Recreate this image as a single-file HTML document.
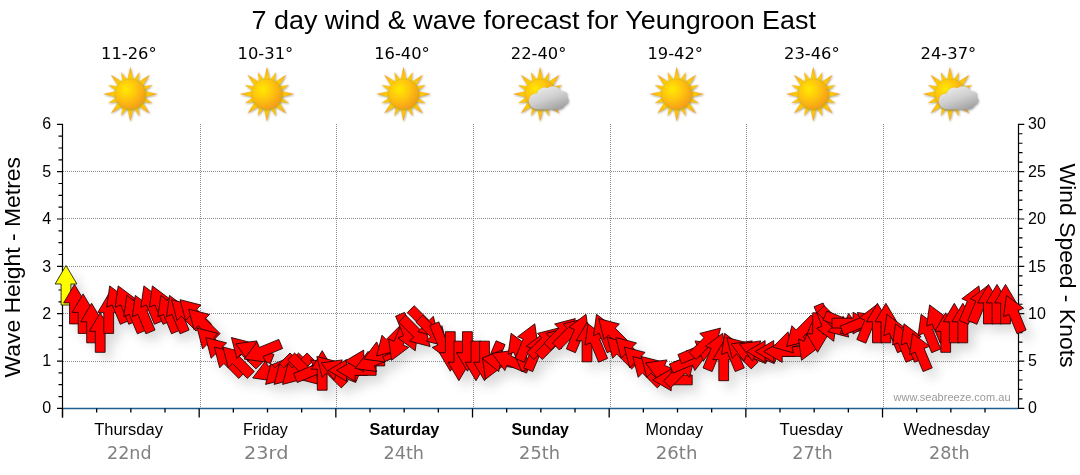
<!DOCTYPE html>
<html lang="en"><head><meta charset="utf-8"><title>7 day wind &amp; wave forecast for Yeungroon East</title>
<style>html,body{margin:0;padding:0;background:#fff}svg{display:block}</style></head>
<body>
<svg width="1080" height="475" viewBox="0 0 1080 475">
<defs>
<radialGradient id="sunc" cx="0.36" cy="0.34" r="0.72"><stop offset="0" stop-color="#ffe900"/><stop offset="0.45" stop-color="#ffc70d"/><stop offset="1" stop-color="#f39a1a"/></radialGradient>
<radialGradient id="ray" gradientUnits="userSpaceOnUse" cx="0" cy="0" r="27"><stop offset="0.5" stop-color="#ffd800"/><stop offset="0.8" stop-color="#fcb81a"/><stop offset="1" stop-color="#f59a1c"/></radialGradient>
<linearGradient id="cld" x1="0.2" y1="0" x2="0.8" y2="1"><stop offset="0" stop-color="#ededed"/><stop offset="0.5" stop-color="#cfcfcf"/><stop offset="1" stop-color="#9d9d9d"/></linearGradient>
<filter id="sh" x="-5%" y="-20%" width="110%" height="150%"><feGaussianBlur stdDeviation="5.5"/></filter>
<filter id="ish" x="-30%" y="-30%" width="160%" height="160%"><feGaussianBlur stdDeviation="0.8"/></filter>

<g id="sun"><path d="M-3.30 -13.00L0.00 -27.30L3.30 -13.00ZM2.39 -13.08L9.18 -22.17L7.56 -10.94ZM6.86 -11.53L19.45 -19.45L11.53 -6.86ZM10.94 -7.56L22.17 -9.18L13.08 -2.39ZM13.00 -3.30L27.30 -0.00L13.00 3.30ZM13.08 2.39L22.17 9.18L10.94 7.56ZM11.53 6.86L19.45 19.45L6.86 11.53ZM7.56 10.94L9.18 22.17L2.39 13.08ZM3.30 13.00L0.00 27.30L-3.30 13.00ZM-2.39 13.08L-9.18 22.17L-7.56 10.94ZM-6.86 11.53L-19.45 19.45L-11.53 6.86ZM-10.94 7.56L-22.17 9.18L-13.08 2.39ZM-13.00 3.30L-27.30 0.00L-13.00 -3.30ZM-13.08 -2.39L-22.17 -9.18L-10.94 -7.56ZM-11.53 -6.86L-19.45 -19.45L-6.86 -11.53ZM-7.56 -10.94L-9.18 -22.17L-2.39 -13.08Z" fill="#6b5a2a" opacity="0.55" transform="translate(0.7,0.8)" filter="url(#ish)"/><path d="M-3.30 -13.00L0.00 -27.30L3.30 -13.00ZM2.39 -13.08L9.18 -22.17L7.56 -10.94ZM6.86 -11.53L19.45 -19.45L11.53 -6.86ZM10.94 -7.56L22.17 -9.18L13.08 -2.39ZM13.00 -3.30L27.30 -0.00L13.00 3.30ZM13.08 2.39L22.17 9.18L10.94 7.56ZM11.53 6.86L19.45 19.45L6.86 11.53ZM7.56 10.94L9.18 22.17L2.39 13.08ZM3.30 13.00L0.00 27.30L-3.30 13.00ZM-2.39 13.08L-9.18 22.17L-7.56 10.94ZM-6.86 11.53L-19.45 19.45L-11.53 6.86ZM-10.94 7.56L-22.17 9.18L-13.08 2.39ZM-13.00 3.30L-27.30 0.00L-13.00 -3.30ZM-13.08 -2.39L-22.17 -9.18L-10.94 -7.56ZM-11.53 -6.86L-19.45 -19.45L-6.86 -11.53ZM-7.56 -10.94L-9.18 -22.17L-2.39 -13.08Z" fill="url(#ray)"/><circle r="15.6" fill="#8a6d25" opacity="0.45" cx="0.5" cy="0.7" filter="url(#ish)"/><circle r="14.9" fill="url(#sunc)"/></g>
<g id="cloud"><path d="M-9 15 C-15 15 -18.5 11 -18.5 6.5 C-18.5 1.5 -14.5 -1.5 -10.5 -1 C-9.5 -6 -4 -8.5 0.5 -6.5 C4 -9.5 11 -9 13.5 -3.5 C17 -4 20.5 -1.5 19.5 2.5 C22.5 4.5 21.5 9.5 17.5 10.5 C16.5 13.5 13 15 10 15 Z" fill="#666" opacity="0.6" transform="translate(0.6,0.8)" filter="url(#ish)"/><path d="M-9 15 C-15 15 -18.5 11 -18.5 6.5 C-18.5 1.5 -14.5 -1.5 -10.5 -1 C-9.5 -6 -4 -8.5 0.5 -6.5 C4 -9.5 11 -9 13.5 -3.5 C17 -4 20.5 -1.5 19.5 2.5 C22.5 4.5 21.5 9.5 17.5 10.5 C16.5 13.5 13 15 10 15 Z" fill="url(#cld)"/></g>
</defs>
<rect width="1080" height="475" fill="#fff"/>
<path d="M62.5 361.5H1018.5M62.5 313.5H1018.5M62.5 266.5H1018.5M62.5 218.5H1018.5M62.5 171.5H1018.5M200.5 124.3V408.4M336.5 124.3V408.4M473.5 124.3V408.4M610.5 124.3V408.4M746.5 124.3V408.4M883.5 124.3V408.4" stroke="#8c8c8c" stroke-width="1" stroke-dasharray="1 1" fill="none" shape-rendering="crispEdges"/>
<path d="M62.5 123.7V417.4M57.0 408.40H62.5M58.5 396.56H62.5M58.5 384.72H62.5M58.5 372.89H62.5M57.0 361.05H62.5M58.5 349.21H62.5M58.5 337.38H62.5M58.5 325.54H62.5M57.0 313.70H62.5M58.5 301.86H62.5M58.5 290.02H62.5M58.5 278.19H62.5M57.0 266.35H62.5M58.5 254.51H62.5M58.5 242.67H62.5M58.5 230.84H62.5M57.0 219.00H62.5M58.5 207.16H62.5M58.5 195.33H62.5M58.5 183.49H62.5M57.0 171.65H62.5M58.5 159.81H62.5M58.5 147.98H62.5M58.5 136.14H62.5M57.0 124.30H62.5M1018.5 123.7V409.0M1018.5 408.40h5.8M1018.5 398.93h4M1018.5 389.46h4M1018.5 379.99h4M1018.5 370.52h4M1018.5 361.05h5.8M1018.5 351.58h4M1018.5 342.11h4M1018.5 332.64h4M1018.5 323.17h4M1018.5 313.70h5.8M1018.5 304.23h4M1018.5 294.76h4M1018.5 285.29h4M1018.5 275.82h4M1018.5 266.35h5.8M1018.5 256.88h4M1018.5 247.41h4M1018.5 237.94h4M1018.5 228.47h4M1018.5 219.00h5.8M1018.5 209.53h4M1018.5 200.06h4M1018.5 190.59h4M1018.5 181.12h4M1018.5 171.65h5.8M1018.5 162.18h4M1018.5 152.71h4M1018.5 143.24h4M1018.5 133.77h4M1018.5 124.30h5.8" stroke="#000" stroke-width="1.2" fill="none"/>
<path d="M63.0 408.4H1018.0" stroke="#1f5d8f" stroke-width="1.5" fill="none"/>
<path d="M62.50 408.4v9M96.67 408.4v4M130.83 408.4v4M165.00 408.4v4M199.17 408.4v9M233.34 408.4v4M267.50 408.4v4M301.67 408.4v4M335.84 408.4v9M370.01 408.4v4M404.17 408.4v4M438.34 408.4v4M472.51 408.4v9M506.68 408.4v4M540.85 408.4v4M575.01 408.4v4M609.18 408.4v9M643.35 408.4v4M677.51 408.4v4M711.68 408.4v4M745.85 408.4v9M780.02 408.4v4M814.18 408.4v4M848.35 408.4v4M882.52 408.4v9M916.69 408.4v4M950.85 408.4v4M985.02 408.4v4" stroke="#000" stroke-width="1.3" fill="none"/>
<path d="M66.0 265.5 L76.9 284.0 L70.9 284.0 L70.9 305.0 L61.1 305.0 L61.1 284.0 L55.1 284.0ZM74.5 284.4 L85.4 302.9 L79.4 302.9 L79.4 323.9 L69.6 323.9 L69.6 302.9 L63.6 302.9ZM83.1 293.9 L94.0 312.4 L88.0 312.4 L88.0 333.4 L78.2 333.4 L78.2 312.4 L72.2 312.4ZM91.6 303.3 L102.5 321.8 L96.5 321.8 L96.5 342.8 L86.7 342.8 L86.7 321.8 L80.7 321.8ZM100.2 312.8 L111.1 331.3 L105.1 331.3 L105.1 352.3 L95.3 352.3 L95.3 331.3 L89.3 331.3ZM108.7 293.9 L119.6 312.4 L113.6 312.4 L113.6 333.4 L103.8 333.4 L103.8 312.4 L97.8 312.4ZM109.7 285.9 L126.8 298.8 L121.3 301.1 L129.3 320.5 L120.3 324.3 L112.2 304.9 L106.7 307.2ZM118.2 285.9 L135.4 298.8 L129.8 301.1 L137.9 320.5 L128.8 324.3 L120.8 304.9 L115.2 307.2ZM126.8 295.4 L143.9 308.3 L138.4 310.6 L146.4 330.0 L137.4 333.8 L129.3 314.4 L123.8 316.6ZM135.3 295.4 L152.5 308.3 L146.9 310.6 L155.0 330.0 L145.9 333.8 L137.9 314.4 L132.3 316.6ZM143.9 285.9 L161.0 298.8 L155.5 301.1 L163.5 320.5 L154.4 324.3 L146.4 304.9 L140.9 307.2ZM152.4 285.9 L169.5 298.8 L164.0 301.1 L172.0 320.5 L163.0 324.3 L154.9 304.9 L149.4 307.2ZM160.9 295.4 L178.1 308.3 L172.5 310.6 L180.6 330.0 L171.5 333.8 L163.5 314.4 L157.9 316.6ZM169.5 295.4 L186.6 308.3 L181.1 310.6 L189.1 330.0 L180.1 333.8 L172.0 314.4 L166.5 316.6ZM171.6 299.7 L192.4 305.0 L188.2 309.3 L203.0 324.1 L196.1 331.1 L181.2 316.2 L177.0 320.5ZM180.1 299.7 L200.9 305.0 L196.7 309.3 L211.5 324.1 L204.6 331.1 L189.8 316.2 L185.5 320.5ZM188.7 309.1 L209.5 314.5 L205.2 318.7 L220.1 333.6 L213.2 340.5 L198.3 325.7 L194.1 329.9ZM197.2 328.1 L218.0 333.4 L213.8 337.7 L228.6 352.5 L221.7 359.5 L206.8 344.6 L202.6 348.9ZM205.8 337.5 L226.6 342.9 L222.3 347.1 L237.2 362.0 L230.2 368.9 L215.4 354.1 L211.1 358.3ZM214.3 347.0 L235.1 352.4 L230.9 356.6 L245.7 371.5 L238.8 378.4 L223.9 363.5 L219.7 367.8ZM222.9 347.0 L243.6 352.4 L239.4 356.6 L254.3 371.5 L247.3 378.4 L232.5 363.5 L228.2 367.8ZM231.4 337.5 L252.2 342.9 L247.9 347.1 L262.8 362.0 L255.9 368.9 L241.0 354.1 L236.8 358.3ZM235.7 343.9 L256.9 340.9 L254.6 346.5 L274.0 354.5 L270.3 363.6 L250.9 355.5 L248.6 361.1ZM244.2 359.1 L257.1 341.9 L259.4 347.4 L278.8 339.4 L282.6 348.5 L263.2 356.5 L265.5 362.0ZM252.7 378.0 L265.7 360.8 L268.0 366.4 L287.4 358.3 L291.1 367.4 L271.7 375.4 L274.0 381.0ZM265.6 384.4 L270.9 363.6 L275.2 367.9 L290.0 353.0 L297.0 359.9 L282.1 374.8 L286.3 379.0ZM274.1 384.4 L279.5 363.6 L283.7 367.9 L298.6 353.0 L305.5 359.9 L290.6 374.8 L294.9 379.0ZM282.6 384.4 L288.0 363.6 L292.3 367.9 L307.1 353.0 L314.0 359.9 L299.2 374.8 L303.4 379.0ZM319.1 384.4 L298.3 379.0 L302.6 374.8 L287.7 359.9 L294.6 353.0 L309.5 367.9 L313.7 363.6ZM331.9 362.9 L319.0 380.0 L316.7 374.5 L297.3 382.5 L293.6 373.5 L313.0 365.4 L310.7 359.9ZM322.2 350.7 L333.1 369.2 L327.1 369.2 L327.1 390.2 L317.3 390.2 L317.3 369.2 L311.3 369.2ZM316.8 356.5 L337.6 361.8 L333.4 366.1 L348.2 380.9 L341.3 387.9 L326.4 373.0 L322.2 377.3ZM321.1 362.9 L342.3 359.9 L340.0 365.4 L359.4 373.5 L355.7 382.5 L336.3 374.5 L334.0 380.0ZM328.1 370.4 L346.6 359.5 L346.6 365.5 L367.6 365.5 L367.6 375.3 L346.6 375.3 L346.6 381.3ZM336.6 370.4 L355.1 359.5 L355.1 365.5 L376.1 365.5 L376.1 375.3 L355.1 375.3 L355.1 381.3ZM345.2 361.0 L363.7 350.1 L363.7 356.1 L384.7 356.1 L384.7 365.9 L363.7 365.9 L363.7 371.9ZM355.2 368.5 L368.1 351.4 L370.4 356.9 L389.8 348.9 L393.6 357.9 L374.2 366.0 L376.5 371.5ZM363.8 359.1 L376.7 341.9 L379.0 347.4 L398.4 339.4 L402.1 348.5 L382.7 356.5 L385.0 362.0ZM376.6 356.0 L382.0 335.2 L386.2 339.5 L401.1 324.6 L408.0 331.5 L393.1 346.4 L397.4 350.6ZM391.5 360.3 L388.6 339.0 L394.1 341.3 L402.1 321.9 L411.2 325.7 L403.1 345.1 L408.7 347.4ZM415.2 350.8 L398.0 337.9 L403.6 335.6 L395.6 316.2 L404.6 312.4 L412.6 331.8 L418.2 329.5ZM430.1 346.5 L409.4 341.2 L413.6 336.9 L398.8 322.1 L405.7 315.1 L420.5 330.0 L424.8 325.7ZM438.7 337.1 L417.9 331.7 L422.1 327.4 L407.3 312.6 L414.2 305.7 L429.1 320.5 L433.3 316.3ZM447.2 346.5 L426.4 341.2 L430.7 336.9 L415.8 322.1 L422.8 315.1 L437.6 330.0 L441.9 325.7ZM449.4 360.3 L432.2 347.4 L437.8 345.1 L429.7 325.7 L438.8 321.9 L446.8 341.3 L452.4 339.0ZM450.3 371.2 L439.4 352.7 L445.4 352.7 L445.4 331.7 L455.2 331.7 L455.2 352.7 L461.2 352.7ZM458.9 380.7 L448.0 362.2 L454.0 362.2 L454.0 341.2 L463.8 341.2 L463.8 362.2 L469.8 362.2ZM467.4 371.2 L456.5 352.7 L462.5 352.7 L462.5 331.7 L472.3 331.7 L472.3 352.7 L478.3 352.7ZM476.0 380.7 L465.1 362.2 L471.1 362.2 L471.1 341.2 L480.9 341.2 L480.9 362.2 L486.9 362.2ZM484.5 380.7 L473.6 362.2 L479.6 362.2 L479.6 341.2 L489.4 341.2 L489.4 362.2 L495.4 362.2ZM485.5 379.2 L482.5 357.9 L488.0 360.2 L496.1 340.8 L505.1 344.6 L497.1 364.0 L502.6 366.3ZM482.0 358.2 L501.9 350.0 L501.0 355.9 L521.8 358.9 L520.5 368.6 L499.7 365.6 L498.8 371.6ZM491.9 353.4 L513.1 350.4 L510.9 356.0 L530.3 364.0 L526.5 373.1 L507.1 365.0 L504.8 370.6ZM511.1 333.3 L528.3 346.2 L522.7 348.5 L530.8 367.9 L521.7 371.6 L513.7 352.2 L508.1 354.5ZM534.8 323.8 L537.8 345.0 L532.2 342.8 L524.2 362.2 L515.1 358.4 L523.2 339.0 L517.6 336.7ZM543.3 333.3 L546.3 354.5 L540.8 352.2 L532.7 371.6 L523.7 367.9 L531.7 348.5 L526.2 346.2ZM558.3 328.1 L552.9 348.9 L548.6 344.6 L533.8 359.5 L526.9 352.5 L541.7 337.7 L537.5 333.4ZM566.8 328.1 L561.4 348.9 L557.2 344.6 L542.3 359.5 L535.4 352.5 L550.3 337.7 L546.0 333.4ZM575.3 318.6 L570.0 339.4 L565.7 335.1 L550.9 350.0 L543.9 343.1 L558.8 328.2 L554.6 324.0ZM583.9 318.6 L578.5 339.4 L574.3 335.1 L559.4 350.0 L552.5 343.1 L567.3 328.2 L563.1 324.0ZM586.0 314.3 L589.0 335.6 L583.5 333.3 L575.4 352.7 L566.4 348.9 L574.4 329.5 L568.9 327.2ZM587.0 322.3 L597.9 340.8 L591.9 340.8 L591.9 361.8 L582.1 361.8 L582.1 340.8 L576.1 340.8ZM588.0 323.8 L605.1 336.7 L599.6 339.0 L607.6 358.4 L598.6 362.2 L590.5 342.8 L585.0 345.0ZM596.5 314.3 L613.7 327.2 L608.1 329.5 L616.2 348.9 L607.1 352.7 L599.1 333.3 L593.5 335.6ZM598.7 318.6 L619.4 324.0 L615.2 328.2 L630.1 343.1 L623.1 350.0 L608.3 335.1 L604.0 339.4ZM607.2 337.5 L628.0 342.9 L623.7 347.1 L638.6 362.0 L631.7 368.9 L616.8 354.1 L612.6 358.3ZM615.7 337.5 L636.5 342.9 L632.3 347.1 L647.1 362.0 L640.2 368.9 L625.4 354.1 L621.1 358.3ZM624.3 347.0 L645.1 352.4 L640.8 356.6 L655.7 371.5 L648.7 378.4 L633.9 363.5 L629.7 367.8ZM632.8 356.5 L653.6 361.8 L649.4 366.1 L664.2 380.9 L657.3 387.9 L642.4 373.0 L638.2 377.3ZM641.4 356.5 L662.2 361.8 L657.9 366.1 L672.8 380.9 L665.8 387.9 L651.0 373.0 L646.7 377.3ZM645.6 362.9 L666.9 359.9 L664.6 365.4 L684.0 373.5 L680.2 382.5 L660.8 374.5 L658.5 380.0ZM652.7 379.9 L671.2 369.0 L671.2 375.0 L692.2 375.0 L692.2 384.8 L671.2 384.8 L671.2 390.8ZM694.9 356.5 L689.5 377.3 L685.3 373.0 L670.5 387.9 L663.5 380.9 L678.4 366.1 L674.1 361.8ZM707.7 353.4 L694.8 370.6 L692.5 365.0 L673.1 373.1 L669.4 364.0 L688.8 356.0 L686.5 350.4ZM716.3 343.9 L703.4 361.1 L701.1 355.5 L681.7 363.6 L677.9 354.5 L697.3 346.5 L695.0 340.9ZM720.5 328.1 L715.2 348.9 L710.9 344.6 L696.1 359.5 L689.1 352.5 L704.0 337.7 L699.8 333.4ZM722.7 333.3 L725.7 354.5 L720.1 352.2 L712.1 371.6 L703.0 367.9 L711.1 348.5 L705.5 346.2ZM723.7 341.2 L734.6 359.7 L728.6 359.7 L728.6 380.7 L718.8 380.7 L718.8 359.7 L712.8 359.7ZM724.6 333.3 L741.8 346.2 L736.2 348.5 L744.3 367.9 L735.2 371.6 L727.2 352.2 L721.6 354.5ZM726.8 337.5 L747.6 342.9 L743.3 347.1 L758.2 362.0 L751.2 368.9 L736.4 354.1 L732.1 358.3ZM731.0 343.9 L752.3 340.9 L750.0 346.5 L769.4 354.5 L765.7 363.6 L746.3 355.5 L744.0 361.1ZM739.6 343.9 L760.8 340.9 L758.5 346.5 L777.9 354.5 L774.2 363.6 L754.8 355.5 L752.5 361.1ZM746.6 351.5 L765.1 340.6 L765.1 346.6 L786.1 346.6 L786.1 356.4 L765.1 356.4 L765.1 362.4ZM755.2 351.5 L773.7 340.6 L773.7 346.6 L794.7 346.6 L794.7 356.4 L773.7 356.4 L773.7 362.4ZM763.7 351.5 L782.2 340.6 L782.2 346.6 L803.2 346.6 L803.2 356.4 L782.2 356.4 L782.2 362.4ZM772.9 347.1 L788.0 331.8 L789.5 337.6 L809.8 332.2 L812.3 341.7 L792.0 347.1 L793.6 352.9ZM786.6 346.5 L791.9 325.7 L796.2 330.0 L811.0 315.1 L818.0 322.1 L803.1 336.9 L807.3 341.2ZM801.5 360.3 L798.5 339.0 L804.1 341.3 L812.1 321.9 L821.2 325.7 L813.1 345.1 L818.7 347.4ZM817.6 352.3 L806.7 333.8 L812.7 333.8 L812.7 312.8 L822.5 312.8 L822.5 333.8 L828.5 333.8ZM833.7 341.3 L816.6 328.4 L822.1 326.1 L814.1 306.7 L823.1 303.0 L831.2 322.4 L836.7 320.1ZM848.7 337.1 L827.9 331.7 L832.1 327.4 L817.3 312.6 L824.2 305.7 L839.0 320.5 L843.3 316.3ZM861.5 330.7 L840.2 333.6 L842.5 328.1 L823.1 320.1 L826.9 311.0 L846.3 319.0 L848.6 313.5ZM871.5 323.1 L853.0 334.0 L853.0 328.0 L832.0 328.0 L832.0 318.2 L853.0 318.2 L853.0 312.2ZM878.6 315.5 L865.6 332.7 L863.3 327.1 L843.9 335.2 L840.2 326.1 L859.6 318.1 L857.3 312.5ZM876.4 304.9 L879.4 326.1 L873.9 323.8 L865.8 343.2 L856.8 339.5 L864.8 320.1 L859.3 317.8ZM877.4 303.3 L888.3 321.8 L882.3 321.8 L882.3 342.8 L872.5 342.8 L872.5 321.8 L866.5 321.8ZM885.9 303.3 L896.8 321.8 L890.8 321.8 L890.8 342.8 L881.0 342.8 L881.0 321.8 L875.0 321.8ZM886.9 314.3 L904.1 327.2 L898.5 329.5 L906.6 348.9 L897.5 352.7 L889.5 333.3 L883.9 335.6ZM895.5 323.8 L912.6 336.7 L907.1 339.0 L915.1 358.4 L906.0 362.2 L898.0 342.8 L892.5 345.0ZM904.0 323.8 L921.2 336.7 L915.6 339.0 L923.6 358.4 L914.6 362.2 L906.6 342.8 L901.0 345.0ZM912.5 333.3 L929.7 346.2 L924.1 348.5 L932.2 367.9 L923.1 371.6 L915.1 352.2 L909.6 354.5ZM921.1 314.3 L938.2 327.2 L932.7 329.5 L940.7 348.9 L931.7 352.7 L923.6 333.3 L918.1 335.6ZM929.6 304.9 L946.8 317.8 L941.2 320.1 L949.3 339.5 L940.2 343.2 L932.2 323.8 L926.6 326.1ZM945.7 312.8 L956.6 331.3 L950.6 331.3 L950.6 352.3 L940.8 352.3 L940.8 331.3 L934.8 331.3ZM954.3 303.3 L965.2 321.8 L959.2 321.8 L959.2 342.8 L949.4 342.8 L949.4 321.8 L943.4 321.8ZM962.8 303.3 L973.7 321.8 L967.7 321.8 L967.7 342.8 L957.9 342.8 L957.9 321.8 L951.9 321.8ZM978.9 285.9 L981.9 307.2 L976.4 304.9 L968.3 324.3 L959.3 320.5 L967.3 301.1 L961.8 298.8ZM987.4 285.9 L990.4 307.2 L984.9 304.9 L976.9 324.3 L967.8 320.5 L975.8 301.1 L970.3 298.8ZM988.4 284.4 L999.3 302.9 L993.3 302.9 L993.3 323.9 L983.5 323.9 L983.5 302.9 L977.5 302.9ZM997.0 284.4 L1007.9 302.9 L1001.9 302.9 L1001.9 323.9 L992.1 323.9 L992.1 302.9 L986.1 302.9ZM1005.5 284.4 L1016.4 302.9 L1010.4 302.9 L1010.4 323.9 L1000.6 323.9 L1000.6 302.9 L994.6 302.9ZM1006.5 295.4 L1023.6 308.3 L1018.1 310.6 L1026.1 330.0 L1017.1 333.8 L1009.0 314.4 L1003.5 316.6Z" fill="#555" opacity="0.22" transform="translate(6.5,7.5)" filter="url(#sh)"/>
<path d="M66.0 265.5 L76.9 284.0 L70.9 284.0 L70.9 305.0 L61.1 305.0 L61.1 284.0 L55.1 284.0Z" fill="#ffff00" stroke="#1a1a00" stroke-width="0.85" stroke-linejoin="miter"/>
<path d="M74.5 284.4 L85.4 302.9 L79.4 302.9 L79.4 323.9 L69.6 323.9 L69.6 302.9 L63.6 302.9Z" fill="#ff0000" stroke="#1a0000" stroke-width="0.85" stroke-linejoin="miter"/>
<path d="M83.1 293.9 L94.0 312.4 L88.0 312.4 L88.0 333.4 L78.2 333.4 L78.2 312.4 L72.2 312.4Z" fill="#ff0000" stroke="#1a0000" stroke-width="0.85" stroke-linejoin="miter"/>
<path d="M91.6 303.3 L102.5 321.8 L96.5 321.8 L96.5 342.8 L86.7 342.8 L86.7 321.8 L80.7 321.8Z" fill="#ff0000" stroke="#1a0000" stroke-width="0.85" stroke-linejoin="miter"/>
<path d="M100.2 312.8 L111.1 331.3 L105.1 331.3 L105.1 352.3 L95.3 352.3 L95.3 331.3 L89.3 331.3Z" fill="#ff0000" stroke="#1a0000" stroke-width="0.85" stroke-linejoin="miter"/>
<path d="M108.7 293.9 L119.6 312.4 L113.6 312.4 L113.6 333.4 L103.8 333.4 L103.8 312.4 L97.8 312.4Z" fill="#ff0000" stroke="#1a0000" stroke-width="0.85" stroke-linejoin="miter"/>
<path d="M109.7 285.9 L126.8 298.8 L121.3 301.1 L129.3 320.5 L120.3 324.3 L112.2 304.9 L106.7 307.2Z" fill="#ff0000" stroke="#1a0000" stroke-width="0.85" stroke-linejoin="miter"/>
<path d="M118.2 285.9 L135.4 298.8 L129.8 301.1 L137.9 320.5 L128.8 324.3 L120.8 304.9 L115.2 307.2Z" fill="#ff0000" stroke="#1a0000" stroke-width="0.85" stroke-linejoin="miter"/>
<path d="M126.8 295.4 L143.9 308.3 L138.4 310.6 L146.4 330.0 L137.4 333.8 L129.3 314.4 L123.8 316.6Z" fill="#ff0000" stroke="#1a0000" stroke-width="0.85" stroke-linejoin="miter"/>
<path d="M135.3 295.4 L152.5 308.3 L146.9 310.6 L155.0 330.0 L145.9 333.8 L137.9 314.4 L132.3 316.6Z" fill="#ff0000" stroke="#1a0000" stroke-width="0.85" stroke-linejoin="miter"/>
<path d="M143.9 285.9 L161.0 298.8 L155.5 301.1 L163.5 320.5 L154.4 324.3 L146.4 304.9 L140.9 307.2Z" fill="#ff0000" stroke="#1a0000" stroke-width="0.85" stroke-linejoin="miter"/>
<path d="M152.4 285.9 L169.5 298.8 L164.0 301.1 L172.0 320.5 L163.0 324.3 L154.9 304.9 L149.4 307.2Z" fill="#ff0000" stroke="#1a0000" stroke-width="0.85" stroke-linejoin="miter"/>
<path d="M160.9 295.4 L178.1 308.3 L172.5 310.6 L180.6 330.0 L171.5 333.8 L163.5 314.4 L157.9 316.6Z" fill="#ff0000" stroke="#1a0000" stroke-width="0.85" stroke-linejoin="miter"/>
<path d="M169.5 295.4 L186.6 308.3 L181.1 310.6 L189.1 330.0 L180.1 333.8 L172.0 314.4 L166.5 316.6Z" fill="#ff0000" stroke="#1a0000" stroke-width="0.85" stroke-linejoin="miter"/>
<path d="M171.6 299.7 L192.4 305.0 L188.2 309.3 L203.0 324.1 L196.1 331.1 L181.2 316.2 L177.0 320.5Z" fill="#ff0000" stroke="#1a0000" stroke-width="0.85" stroke-linejoin="miter"/>
<path d="M180.1 299.7 L200.9 305.0 L196.7 309.3 L211.5 324.1 L204.6 331.1 L189.8 316.2 L185.5 320.5Z" fill="#ff0000" stroke="#1a0000" stroke-width="0.85" stroke-linejoin="miter"/>
<path d="M188.7 309.1 L209.5 314.5 L205.2 318.7 L220.1 333.6 L213.2 340.5 L198.3 325.7 L194.1 329.9Z" fill="#ff0000" stroke="#1a0000" stroke-width="0.85" stroke-linejoin="miter"/>
<path d="M197.2 328.1 L218.0 333.4 L213.8 337.7 L228.6 352.5 L221.7 359.5 L206.8 344.6 L202.6 348.9Z" fill="#ff0000" stroke="#1a0000" stroke-width="0.85" stroke-linejoin="miter"/>
<path d="M205.8 337.5 L226.6 342.9 L222.3 347.1 L237.2 362.0 L230.2 368.9 L215.4 354.1 L211.1 358.3Z" fill="#ff0000" stroke="#1a0000" stroke-width="0.85" stroke-linejoin="miter"/>
<path d="M214.3 347.0 L235.1 352.4 L230.9 356.6 L245.7 371.5 L238.8 378.4 L223.9 363.5 L219.7 367.8Z" fill="#ff0000" stroke="#1a0000" stroke-width="0.85" stroke-linejoin="miter"/>
<path d="M222.9 347.0 L243.6 352.4 L239.4 356.6 L254.3 371.5 L247.3 378.4 L232.5 363.5 L228.2 367.8Z" fill="#ff0000" stroke="#1a0000" stroke-width="0.85" stroke-linejoin="miter"/>
<path d="M231.4 337.5 L252.2 342.9 L247.9 347.1 L262.8 362.0 L255.9 368.9 L241.0 354.1 L236.8 358.3Z" fill="#ff0000" stroke="#1a0000" stroke-width="0.85" stroke-linejoin="miter"/>
<path d="M235.7 343.9 L256.9 340.9 L254.6 346.5 L274.0 354.5 L270.3 363.6 L250.9 355.5 L248.6 361.1Z" fill="#ff0000" stroke="#1a0000" stroke-width="0.85" stroke-linejoin="miter"/>
<path d="M244.2 359.1 L257.1 341.9 L259.4 347.4 L278.8 339.4 L282.6 348.5 L263.2 356.5 L265.5 362.0Z" fill="#ff0000" stroke="#1a0000" stroke-width="0.85" stroke-linejoin="miter"/>
<path d="M252.7 378.0 L265.7 360.8 L268.0 366.4 L287.4 358.3 L291.1 367.4 L271.7 375.4 L274.0 381.0Z" fill="#ff0000" stroke="#1a0000" stroke-width="0.85" stroke-linejoin="miter"/>
<path d="M265.6 384.4 L270.9 363.6 L275.2 367.9 L290.0 353.0 L297.0 359.9 L282.1 374.8 L286.3 379.0Z" fill="#ff0000" stroke="#1a0000" stroke-width="0.85" stroke-linejoin="miter"/>
<path d="M274.1 384.4 L279.5 363.6 L283.7 367.9 L298.6 353.0 L305.5 359.9 L290.6 374.8 L294.9 379.0Z" fill="#ff0000" stroke="#1a0000" stroke-width="0.85" stroke-linejoin="miter"/>
<path d="M282.6 384.4 L288.0 363.6 L292.3 367.9 L307.1 353.0 L314.0 359.9 L299.2 374.8 L303.4 379.0Z" fill="#ff0000" stroke="#1a0000" stroke-width="0.85" stroke-linejoin="miter"/>
<path d="M319.1 384.4 L298.3 379.0 L302.6 374.8 L287.7 359.9 L294.6 353.0 L309.5 367.9 L313.7 363.6Z" fill="#ff0000" stroke="#1a0000" stroke-width="0.85" stroke-linejoin="miter"/>
<path d="M331.9 362.9 L319.0 380.0 L316.7 374.5 L297.3 382.5 L293.6 373.5 L313.0 365.4 L310.7 359.9Z" fill="#ff0000" stroke="#1a0000" stroke-width="0.85" stroke-linejoin="miter"/>
<path d="M322.2 350.7 L333.1 369.2 L327.1 369.2 L327.1 390.2 L317.3 390.2 L317.3 369.2 L311.3 369.2Z" fill="#ff0000" stroke="#1a0000" stroke-width="0.85" stroke-linejoin="miter"/>
<path d="M316.8 356.5 L337.6 361.8 L333.4 366.1 L348.2 380.9 L341.3 387.9 L326.4 373.0 L322.2 377.3Z" fill="#ff0000" stroke="#1a0000" stroke-width="0.85" stroke-linejoin="miter"/>
<path d="M321.1 362.9 L342.3 359.9 L340.0 365.4 L359.4 373.5 L355.7 382.5 L336.3 374.5 L334.0 380.0Z" fill="#ff0000" stroke="#1a0000" stroke-width="0.85" stroke-linejoin="miter"/>
<path d="M328.1 370.4 L346.6 359.5 L346.6 365.5 L367.6 365.5 L367.6 375.3 L346.6 375.3 L346.6 381.3Z" fill="#ff0000" stroke="#1a0000" stroke-width="0.85" stroke-linejoin="miter"/>
<path d="M336.6 370.4 L355.1 359.5 L355.1 365.5 L376.1 365.5 L376.1 375.3 L355.1 375.3 L355.1 381.3Z" fill="#ff0000" stroke="#1a0000" stroke-width="0.85" stroke-linejoin="miter"/>
<path d="M345.2 361.0 L363.7 350.1 L363.7 356.1 L384.7 356.1 L384.7 365.9 L363.7 365.9 L363.7 371.9Z" fill="#ff0000" stroke="#1a0000" stroke-width="0.85" stroke-linejoin="miter"/>
<path d="M355.2 368.5 L368.1 351.4 L370.4 356.9 L389.8 348.9 L393.6 357.9 L374.2 366.0 L376.5 371.5Z" fill="#ff0000" stroke="#1a0000" stroke-width="0.85" stroke-linejoin="miter"/>
<path d="M363.8 359.1 L376.7 341.9 L379.0 347.4 L398.4 339.4 L402.1 348.5 L382.7 356.5 L385.0 362.0Z" fill="#ff0000" stroke="#1a0000" stroke-width="0.85" stroke-linejoin="miter"/>
<path d="M376.6 356.0 L382.0 335.2 L386.2 339.5 L401.1 324.6 L408.0 331.5 L393.1 346.4 L397.4 350.6Z" fill="#ff0000" stroke="#1a0000" stroke-width="0.85" stroke-linejoin="miter"/>
<path d="M391.5 360.3 L388.6 339.0 L394.1 341.3 L402.1 321.9 L411.2 325.7 L403.1 345.1 L408.7 347.4Z" fill="#ff0000" stroke="#1a0000" stroke-width="0.85" stroke-linejoin="miter"/>
<path d="M415.2 350.8 L398.0 337.9 L403.6 335.6 L395.6 316.2 L404.6 312.4 L412.6 331.8 L418.2 329.5Z" fill="#ff0000" stroke="#1a0000" stroke-width="0.85" stroke-linejoin="miter"/>
<path d="M430.1 346.5 L409.4 341.2 L413.6 336.9 L398.8 322.1 L405.7 315.1 L420.5 330.0 L424.8 325.7Z" fill="#ff0000" stroke="#1a0000" stroke-width="0.85" stroke-linejoin="miter"/>
<path d="M438.7 337.1 L417.9 331.7 L422.1 327.4 L407.3 312.6 L414.2 305.7 L429.1 320.5 L433.3 316.3Z" fill="#ff0000" stroke="#1a0000" stroke-width="0.85" stroke-linejoin="miter"/>
<path d="M447.2 346.5 L426.4 341.2 L430.7 336.9 L415.8 322.1 L422.8 315.1 L437.6 330.0 L441.9 325.7Z" fill="#ff0000" stroke="#1a0000" stroke-width="0.85" stroke-linejoin="miter"/>
<path d="M449.4 360.3 L432.2 347.4 L437.8 345.1 L429.7 325.7 L438.8 321.9 L446.8 341.3 L452.4 339.0Z" fill="#ff0000" stroke="#1a0000" stroke-width="0.85" stroke-linejoin="miter"/>
<path d="M450.3 371.2 L439.4 352.7 L445.4 352.7 L445.4 331.7 L455.2 331.7 L455.2 352.7 L461.2 352.7Z" fill="#ff0000" stroke="#1a0000" stroke-width="0.85" stroke-linejoin="miter"/>
<path d="M458.9 380.7 L448.0 362.2 L454.0 362.2 L454.0 341.2 L463.8 341.2 L463.8 362.2 L469.8 362.2Z" fill="#ff0000" stroke="#1a0000" stroke-width="0.85" stroke-linejoin="miter"/>
<path d="M467.4 371.2 L456.5 352.7 L462.5 352.7 L462.5 331.7 L472.3 331.7 L472.3 352.7 L478.3 352.7Z" fill="#ff0000" stroke="#1a0000" stroke-width="0.85" stroke-linejoin="miter"/>
<path d="M476.0 380.7 L465.1 362.2 L471.1 362.2 L471.1 341.2 L480.9 341.2 L480.9 362.2 L486.9 362.2Z" fill="#ff0000" stroke="#1a0000" stroke-width="0.85" stroke-linejoin="miter"/>
<path d="M484.5 380.7 L473.6 362.2 L479.6 362.2 L479.6 341.2 L489.4 341.2 L489.4 362.2 L495.4 362.2Z" fill="#ff0000" stroke="#1a0000" stroke-width="0.85" stroke-linejoin="miter"/>
<path d="M485.5 379.2 L482.5 357.9 L488.0 360.2 L496.1 340.8 L505.1 344.6 L497.1 364.0 L502.6 366.3Z" fill="#ff0000" stroke="#1a0000" stroke-width="0.85" stroke-linejoin="miter"/>
<path d="M482.0 358.2 L501.9 350.0 L501.0 355.9 L521.8 358.9 L520.5 368.6 L499.7 365.6 L498.8 371.6Z" fill="#ff0000" stroke="#1a0000" stroke-width="0.85" stroke-linejoin="miter"/>
<path d="M491.9 353.4 L513.1 350.4 L510.9 356.0 L530.3 364.0 L526.5 373.1 L507.1 365.0 L504.8 370.6Z" fill="#ff0000" stroke="#1a0000" stroke-width="0.85" stroke-linejoin="miter"/>
<path d="M511.1 333.3 L528.3 346.2 L522.7 348.5 L530.8 367.9 L521.7 371.6 L513.7 352.2 L508.1 354.5Z" fill="#ff0000" stroke="#1a0000" stroke-width="0.85" stroke-linejoin="miter"/>
<path d="M534.8 323.8 L537.8 345.0 L532.2 342.8 L524.2 362.2 L515.1 358.4 L523.2 339.0 L517.6 336.7Z" fill="#ff0000" stroke="#1a0000" stroke-width="0.85" stroke-linejoin="miter"/>
<path d="M543.3 333.3 L546.3 354.5 L540.8 352.2 L532.7 371.6 L523.7 367.9 L531.7 348.5 L526.2 346.2Z" fill="#ff0000" stroke="#1a0000" stroke-width="0.85" stroke-linejoin="miter"/>
<path d="M558.3 328.1 L552.9 348.9 L548.6 344.6 L533.8 359.5 L526.9 352.5 L541.7 337.7 L537.5 333.4Z" fill="#ff0000" stroke="#1a0000" stroke-width="0.85" stroke-linejoin="miter"/>
<path d="M566.8 328.1 L561.4 348.9 L557.2 344.6 L542.3 359.5 L535.4 352.5 L550.3 337.7 L546.0 333.4Z" fill="#ff0000" stroke="#1a0000" stroke-width="0.85" stroke-linejoin="miter"/>
<path d="M575.3 318.6 L570.0 339.4 L565.7 335.1 L550.9 350.0 L543.9 343.1 L558.8 328.2 L554.6 324.0Z" fill="#ff0000" stroke="#1a0000" stroke-width="0.85" stroke-linejoin="miter"/>
<path d="M583.9 318.6 L578.5 339.4 L574.3 335.1 L559.4 350.0 L552.5 343.1 L567.3 328.2 L563.1 324.0Z" fill="#ff0000" stroke="#1a0000" stroke-width="0.85" stroke-linejoin="miter"/>
<path d="M586.0 314.3 L589.0 335.6 L583.5 333.3 L575.4 352.7 L566.4 348.9 L574.4 329.5 L568.9 327.2Z" fill="#ff0000" stroke="#1a0000" stroke-width="0.85" stroke-linejoin="miter"/>
<path d="M587.0 322.3 L597.9 340.8 L591.9 340.8 L591.9 361.8 L582.1 361.8 L582.1 340.8 L576.1 340.8Z" fill="#ff0000" stroke="#1a0000" stroke-width="0.85" stroke-linejoin="miter"/>
<path d="M588.0 323.8 L605.1 336.7 L599.6 339.0 L607.6 358.4 L598.6 362.2 L590.5 342.8 L585.0 345.0Z" fill="#ff0000" stroke="#1a0000" stroke-width="0.85" stroke-linejoin="miter"/>
<path d="M596.5 314.3 L613.7 327.2 L608.1 329.5 L616.2 348.9 L607.1 352.7 L599.1 333.3 L593.5 335.6Z" fill="#ff0000" stroke="#1a0000" stroke-width="0.85" stroke-linejoin="miter"/>
<path d="M598.7 318.6 L619.4 324.0 L615.2 328.2 L630.1 343.1 L623.1 350.0 L608.3 335.1 L604.0 339.4Z" fill="#ff0000" stroke="#1a0000" stroke-width="0.85" stroke-linejoin="miter"/>
<path d="M607.2 337.5 L628.0 342.9 L623.7 347.1 L638.6 362.0 L631.7 368.9 L616.8 354.1 L612.6 358.3Z" fill="#ff0000" stroke="#1a0000" stroke-width="0.85" stroke-linejoin="miter"/>
<path d="M615.7 337.5 L636.5 342.9 L632.3 347.1 L647.1 362.0 L640.2 368.9 L625.4 354.1 L621.1 358.3Z" fill="#ff0000" stroke="#1a0000" stroke-width="0.85" stroke-linejoin="miter"/>
<path d="M624.3 347.0 L645.1 352.4 L640.8 356.6 L655.7 371.5 L648.7 378.4 L633.9 363.5 L629.7 367.8Z" fill="#ff0000" stroke="#1a0000" stroke-width="0.85" stroke-linejoin="miter"/>
<path d="M632.8 356.5 L653.6 361.8 L649.4 366.1 L664.2 380.9 L657.3 387.9 L642.4 373.0 L638.2 377.3Z" fill="#ff0000" stroke="#1a0000" stroke-width="0.85" stroke-linejoin="miter"/>
<path d="M641.4 356.5 L662.2 361.8 L657.9 366.1 L672.8 380.9 L665.8 387.9 L651.0 373.0 L646.7 377.3Z" fill="#ff0000" stroke="#1a0000" stroke-width="0.85" stroke-linejoin="miter"/>
<path d="M645.6 362.9 L666.9 359.9 L664.6 365.4 L684.0 373.5 L680.2 382.5 L660.8 374.5 L658.5 380.0Z" fill="#ff0000" stroke="#1a0000" stroke-width="0.85" stroke-linejoin="miter"/>
<path d="M652.7 379.9 L671.2 369.0 L671.2 375.0 L692.2 375.0 L692.2 384.8 L671.2 384.8 L671.2 390.8Z" fill="#ff0000" stroke="#1a0000" stroke-width="0.85" stroke-linejoin="miter"/>
<path d="M694.9 356.5 L689.5 377.3 L685.3 373.0 L670.5 387.9 L663.5 380.9 L678.4 366.1 L674.1 361.8Z" fill="#ff0000" stroke="#1a0000" stroke-width="0.85" stroke-linejoin="miter"/>
<path d="M707.7 353.4 L694.8 370.6 L692.5 365.0 L673.1 373.1 L669.4 364.0 L688.8 356.0 L686.5 350.4Z" fill="#ff0000" stroke="#1a0000" stroke-width="0.85" stroke-linejoin="miter"/>
<path d="M716.3 343.9 L703.4 361.1 L701.1 355.5 L681.7 363.6 L677.9 354.5 L697.3 346.5 L695.0 340.9Z" fill="#ff0000" stroke="#1a0000" stroke-width="0.85" stroke-linejoin="miter"/>
<path d="M720.5 328.1 L715.2 348.9 L710.9 344.6 L696.1 359.5 L689.1 352.5 L704.0 337.7 L699.8 333.4Z" fill="#ff0000" stroke="#1a0000" stroke-width="0.85" stroke-linejoin="miter"/>
<path d="M722.7 333.3 L725.7 354.5 L720.1 352.2 L712.1 371.6 L703.0 367.9 L711.1 348.5 L705.5 346.2Z" fill="#ff0000" stroke="#1a0000" stroke-width="0.85" stroke-linejoin="miter"/>
<path d="M723.7 341.2 L734.6 359.7 L728.6 359.7 L728.6 380.7 L718.8 380.7 L718.8 359.7 L712.8 359.7Z" fill="#ff0000" stroke="#1a0000" stroke-width="0.85" stroke-linejoin="miter"/>
<path d="M724.6 333.3 L741.8 346.2 L736.2 348.5 L744.3 367.9 L735.2 371.6 L727.2 352.2 L721.6 354.5Z" fill="#ff0000" stroke="#1a0000" stroke-width="0.85" stroke-linejoin="miter"/>
<path d="M726.8 337.5 L747.6 342.9 L743.3 347.1 L758.2 362.0 L751.2 368.9 L736.4 354.1 L732.1 358.3Z" fill="#ff0000" stroke="#1a0000" stroke-width="0.85" stroke-linejoin="miter"/>
<path d="M731.0 343.9 L752.3 340.9 L750.0 346.5 L769.4 354.5 L765.7 363.6 L746.3 355.5 L744.0 361.1Z" fill="#ff0000" stroke="#1a0000" stroke-width="0.85" stroke-linejoin="miter"/>
<path d="M739.6 343.9 L760.8 340.9 L758.5 346.5 L777.9 354.5 L774.2 363.6 L754.8 355.5 L752.5 361.1Z" fill="#ff0000" stroke="#1a0000" stroke-width="0.85" stroke-linejoin="miter"/>
<path d="M746.6 351.5 L765.1 340.6 L765.1 346.6 L786.1 346.6 L786.1 356.4 L765.1 356.4 L765.1 362.4Z" fill="#ff0000" stroke="#1a0000" stroke-width="0.85" stroke-linejoin="miter"/>
<path d="M755.2 351.5 L773.7 340.6 L773.7 346.6 L794.7 346.6 L794.7 356.4 L773.7 356.4 L773.7 362.4Z" fill="#ff0000" stroke="#1a0000" stroke-width="0.85" stroke-linejoin="miter"/>
<path d="M763.7 351.5 L782.2 340.6 L782.2 346.6 L803.2 346.6 L803.2 356.4 L782.2 356.4 L782.2 362.4Z" fill="#ff0000" stroke="#1a0000" stroke-width="0.85" stroke-linejoin="miter"/>
<path d="M772.9 347.1 L788.0 331.8 L789.5 337.6 L809.8 332.2 L812.3 341.7 L792.0 347.1 L793.6 352.9Z" fill="#ff0000" stroke="#1a0000" stroke-width="0.85" stroke-linejoin="miter"/>
<path d="M786.6 346.5 L791.9 325.7 L796.2 330.0 L811.0 315.1 L818.0 322.1 L803.1 336.9 L807.3 341.2Z" fill="#ff0000" stroke="#1a0000" stroke-width="0.85" stroke-linejoin="miter"/>
<path d="M801.5 360.3 L798.5 339.0 L804.1 341.3 L812.1 321.9 L821.2 325.7 L813.1 345.1 L818.7 347.4Z" fill="#ff0000" stroke="#1a0000" stroke-width="0.85" stroke-linejoin="miter"/>
<path d="M817.6 352.3 L806.7 333.8 L812.7 333.8 L812.7 312.8 L822.5 312.8 L822.5 333.8 L828.5 333.8Z" fill="#ff0000" stroke="#1a0000" stroke-width="0.85" stroke-linejoin="miter"/>
<path d="M833.7 341.3 L816.6 328.4 L822.1 326.1 L814.1 306.7 L823.1 303.0 L831.2 322.4 L836.7 320.1Z" fill="#ff0000" stroke="#1a0000" stroke-width="0.85" stroke-linejoin="miter"/>
<path d="M848.7 337.1 L827.9 331.7 L832.1 327.4 L817.3 312.6 L824.2 305.7 L839.0 320.5 L843.3 316.3Z" fill="#ff0000" stroke="#1a0000" stroke-width="0.85" stroke-linejoin="miter"/>
<path d="M861.5 330.7 L840.2 333.6 L842.5 328.1 L823.1 320.1 L826.9 311.0 L846.3 319.0 L848.6 313.5Z" fill="#ff0000" stroke="#1a0000" stroke-width="0.85" stroke-linejoin="miter"/>
<path d="M871.5 323.1 L853.0 334.0 L853.0 328.0 L832.0 328.0 L832.0 318.2 L853.0 318.2 L853.0 312.2Z" fill="#ff0000" stroke="#1a0000" stroke-width="0.85" stroke-linejoin="miter"/>
<path d="M878.6 315.5 L865.6 332.7 L863.3 327.1 L843.9 335.2 L840.2 326.1 L859.6 318.1 L857.3 312.5Z" fill="#ff0000" stroke="#1a0000" stroke-width="0.85" stroke-linejoin="miter"/>
<path d="M876.4 304.9 L879.4 326.1 L873.9 323.8 L865.8 343.2 L856.8 339.5 L864.8 320.1 L859.3 317.8Z" fill="#ff0000" stroke="#1a0000" stroke-width="0.85" stroke-linejoin="miter"/>
<path d="M877.4 303.3 L888.3 321.8 L882.3 321.8 L882.3 342.8 L872.5 342.8 L872.5 321.8 L866.5 321.8Z" fill="#ff0000" stroke="#1a0000" stroke-width="0.85" stroke-linejoin="miter"/>
<path d="M885.9 303.3 L896.8 321.8 L890.8 321.8 L890.8 342.8 L881.0 342.8 L881.0 321.8 L875.0 321.8Z" fill="#ff0000" stroke="#1a0000" stroke-width="0.85" stroke-linejoin="miter"/>
<path d="M886.9 314.3 L904.1 327.2 L898.5 329.5 L906.6 348.9 L897.5 352.7 L889.5 333.3 L883.9 335.6Z" fill="#ff0000" stroke="#1a0000" stroke-width="0.85" stroke-linejoin="miter"/>
<path d="M895.5 323.8 L912.6 336.7 L907.1 339.0 L915.1 358.4 L906.0 362.2 L898.0 342.8 L892.5 345.0Z" fill="#ff0000" stroke="#1a0000" stroke-width="0.85" stroke-linejoin="miter"/>
<path d="M904.0 323.8 L921.2 336.7 L915.6 339.0 L923.6 358.4 L914.6 362.2 L906.6 342.8 L901.0 345.0Z" fill="#ff0000" stroke="#1a0000" stroke-width="0.85" stroke-linejoin="miter"/>
<path d="M912.5 333.3 L929.7 346.2 L924.1 348.5 L932.2 367.9 L923.1 371.6 L915.1 352.2 L909.6 354.5Z" fill="#ff0000" stroke="#1a0000" stroke-width="0.85" stroke-linejoin="miter"/>
<path d="M921.1 314.3 L938.2 327.2 L932.7 329.5 L940.7 348.9 L931.7 352.7 L923.6 333.3 L918.1 335.6Z" fill="#ff0000" stroke="#1a0000" stroke-width="0.85" stroke-linejoin="miter"/>
<path d="M929.6 304.9 L946.8 317.8 L941.2 320.1 L949.3 339.5 L940.2 343.2 L932.2 323.8 L926.6 326.1Z" fill="#ff0000" stroke="#1a0000" stroke-width="0.85" stroke-linejoin="miter"/>
<path d="M945.7 312.8 L956.6 331.3 L950.6 331.3 L950.6 352.3 L940.8 352.3 L940.8 331.3 L934.8 331.3Z" fill="#ff0000" stroke="#1a0000" stroke-width="0.85" stroke-linejoin="miter"/>
<path d="M954.3 303.3 L965.2 321.8 L959.2 321.8 L959.2 342.8 L949.4 342.8 L949.4 321.8 L943.4 321.8Z" fill="#ff0000" stroke="#1a0000" stroke-width="0.85" stroke-linejoin="miter"/>
<path d="M962.8 303.3 L973.7 321.8 L967.7 321.8 L967.7 342.8 L957.9 342.8 L957.9 321.8 L951.9 321.8Z" fill="#ff0000" stroke="#1a0000" stroke-width="0.85" stroke-linejoin="miter"/>
<path d="M978.9 285.9 L981.9 307.2 L976.4 304.9 L968.3 324.3 L959.3 320.5 L967.3 301.1 L961.8 298.8Z" fill="#ff0000" stroke="#1a0000" stroke-width="0.85" stroke-linejoin="miter"/>
<path d="M987.4 285.9 L990.4 307.2 L984.9 304.9 L976.9 324.3 L967.8 320.5 L975.8 301.1 L970.3 298.8Z" fill="#ff0000" stroke="#1a0000" stroke-width="0.85" stroke-linejoin="miter"/>
<path d="M988.4 284.4 L999.3 302.9 L993.3 302.9 L993.3 323.9 L983.5 323.9 L983.5 302.9 L977.5 302.9Z" fill="#ff0000" stroke="#1a0000" stroke-width="0.85" stroke-linejoin="miter"/>
<path d="M997.0 284.4 L1007.9 302.9 L1001.9 302.9 L1001.9 323.9 L992.1 323.9 L992.1 302.9 L986.1 302.9Z" fill="#ff0000" stroke="#1a0000" stroke-width="0.85" stroke-linejoin="miter"/>
<path d="M1005.5 284.4 L1016.4 302.9 L1010.4 302.9 L1010.4 323.9 L1000.6 323.9 L1000.6 302.9 L994.6 302.9Z" fill="#ff0000" stroke="#1a0000" stroke-width="0.85" stroke-linejoin="miter"/>
<path d="M1006.5 295.4 L1023.6 308.3 L1018.1 310.6 L1026.1 330.0 L1017.1 333.8 L1009.0 314.4 L1003.5 316.6Z" fill="#ff0000" stroke="#1a0000" stroke-width="0.85" stroke-linejoin="miter"/>
<g font-family="'Liberation Sans', Arial, sans-serif" font-size="16" fill="#000">
<text x="51.2" y="413.0" text-anchor="end">0</text>
<text x="51.2" y="366.4" text-anchor="end">1</text>
<text x="51.2" y="319.1" text-anchor="end">2</text>
<text x="51.2" y="271.8" text-anchor="end">3</text>
<text x="51.2" y="224.4" text-anchor="end">4</text>
<text x="51.2" y="177.1" text-anchor="end">5</text>
<text x="51.2" y="128.9" text-anchor="end">6</text>
<text x="1028.0" y="412.9">0</text>
<text x="1028.0" y="366.3">5</text>
<text x="1028.0" y="319.0">10</text>
<text x="1028.0" y="271.7">15</text>
<text x="1028.0" y="224.3">20</text>
<text x="1028.0" y="177.0">25</text>
<text x="1028.0" y="128.8">30</text>
</g>
<g font-family="'Liberation Sans', Arial, sans-serif" font-size="22.7" fill="#000">
<text transform="translate(20,377.5) rotate(-90)" textLength="220.5" lengthAdjust="spacingAndGlyphs">Wave Height - Metres</text>
<text transform="translate(1059.5,163.5) rotate(90)" textLength="204" lengthAdjust="spacingAndGlyphs">Wind Speed - Knots</text>
</g>
<text x="251.5" y="29.2" font-family="'Liberation Sans', Arial, sans-serif" font-size="26.2" textLength="564.5" lengthAdjust="spacingAndGlyphs" fill="#000">7 day wind &amp; wave forecast for Yeungroon East</text>
<text x="101.0" y="58.9" font-family="'DejaVu Sans', Verdana, sans-serif" font-size="15.4" textLength="55.6" lengthAdjust="spacingAndGlyphs" fill="#000">11-26°</text>
<text x="237.6" y="58.9" font-family="'DejaVu Sans', Verdana, sans-serif" font-size="15.4" textLength="55.6" lengthAdjust="spacingAndGlyphs" fill="#000">10-31°</text>
<text x="374.2" y="58.9" font-family="'DejaVu Sans', Verdana, sans-serif" font-size="15.4" textLength="55.6" lengthAdjust="spacingAndGlyphs" fill="#000">16-40°</text>
<text x="510.8" y="58.9" font-family="'DejaVu Sans', Verdana, sans-serif" font-size="15.4" textLength="55.6" lengthAdjust="spacingAndGlyphs" fill="#000">22-40°</text>
<text x="647.4" y="58.9" font-family="'DejaVu Sans', Verdana, sans-serif" font-size="15.4" textLength="55.6" lengthAdjust="spacingAndGlyphs" fill="#000">19-42°</text>
<text x="784.0" y="58.9" font-family="'DejaVu Sans', Verdana, sans-serif" font-size="15.4" textLength="55.6" lengthAdjust="spacingAndGlyphs" fill="#000">23-46°</text>
<text x="920.6" y="58.9" font-family="'DejaVu Sans', Verdana, sans-serif" font-size="15.4" textLength="55.6" lengthAdjust="spacingAndGlyphs" fill="#000">24-37°</text>
<use href="#sun" x="130.3" y="94.1"/>
<use href="#sun" x="266.9" y="94.1"/>
<use href="#sun" x="403.5" y="94.1"/>
<use href="#sun" x="540.1" y="94.1"/>
<use href="#cloud" x="547.4" y="94.6"/>
<use href="#sun" x="676.7" y="94.1"/>
<use href="#sun" x="813.3" y="94.1"/>
<use href="#sun" x="949.9" y="94.1"/>
<use href="#cloud" x="957.2" y="94.6"/>
<text x="94.2" y="435.2" font-family="'Liberation Sans', Arial, sans-serif" font-size="17.3" textLength="68.8" lengthAdjust="spacingAndGlyphs" fill="#000">Thursday</text>
<text x="107.1" y="458.6" font-family="'DejaVu Sans', Verdana, sans-serif" font-size="17" textLength="44.5" lengthAdjust="spacingAndGlyphs" fill="#808080">22nd</text>
<text x="243.0" y="435.2" font-family="'Liberation Sans', Arial, sans-serif" font-size="17.3" textLength="44.7" lengthAdjust="spacingAndGlyphs" fill="#000">Friday</text>
<text x="244.1" y="458.6" font-family="'DejaVu Sans', Verdana, sans-serif" font-size="17" textLength="44.3" lengthAdjust="spacingAndGlyphs" fill="#808080">23rd</text>
<text x="369.6" y="435.2" font-family="'Liberation Sans', Arial, sans-serif" font-size="17.3" font-weight="bold" textLength="69.7" lengthAdjust="spacingAndGlyphs" fill="#000">Saturday</text>
<text x="383.5" y="458.6" font-family="'DejaVu Sans', Verdana, sans-serif" font-size="17" textLength="40.5" lengthAdjust="spacingAndGlyphs" fill="#808080">24th</text>
<text x="511.5" y="435.2" font-family="'Liberation Sans', Arial, sans-serif" font-size="17.3" font-weight="bold" textLength="57.4" lengthAdjust="spacingAndGlyphs" fill="#000">Sunday</text>
<text x="519.1" y="458.6" font-family="'DejaVu Sans', Verdana, sans-serif" font-size="17" textLength="40.8" lengthAdjust="spacingAndGlyphs" fill="#808080">25th</text>
<text x="645.6" y="435.2" font-family="'Liberation Sans', Arial, sans-serif" font-size="17.3" textLength="57.4" lengthAdjust="spacingAndGlyphs" fill="#000">Monday</text>
<text x="655.8" y="458.6" font-family="'DejaVu Sans', Verdana, sans-serif" font-size="17" textLength="41.6" lengthAdjust="spacingAndGlyphs" fill="#808080">26th</text>
<text x="779.6" y="435.2" font-family="'Liberation Sans', Arial, sans-serif" font-size="17.3" textLength="63.2" lengthAdjust="spacingAndGlyphs" fill="#000">Tuesday</text>
<text x="792.3" y="458.6" font-family="'DejaVu Sans', Verdana, sans-serif" font-size="17" textLength="40.5" lengthAdjust="spacingAndGlyphs" fill="#808080">27th</text>
<text x="903.4" y="435.2" font-family="'Liberation Sans', Arial, sans-serif" font-size="17.3" textLength="86.5" lengthAdjust="spacingAndGlyphs" fill="#000">Wednesday</text>
<text x="929.1" y="458.6" font-family="'DejaVu Sans', Verdana, sans-serif" font-size="17" textLength="40.5" lengthAdjust="spacingAndGlyphs" fill="#808080">28th</text>
<text x="893.5" y="400.6" font-family="'Liberation Sans', Arial, sans-serif" font-size="11" fill="#9a9a9a" textLength="117" lengthAdjust="spacing">www.seabreeze.com.au</text>
</svg>
</body></html>
